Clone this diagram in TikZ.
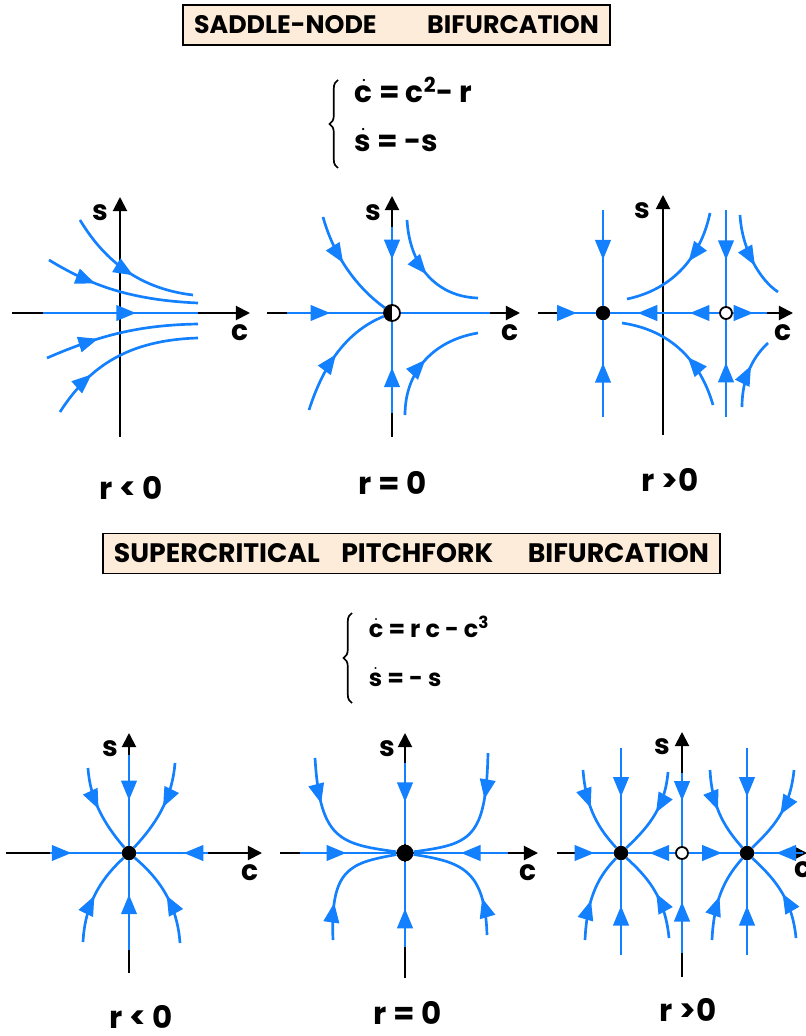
\documentclass[tikz,border=0pt]{standalone}
\usepackage{amsmath}
\usepackage{fontspec}
\setmainfont{Poppins}
\usepackage{tikz}
\usetikzlibrary{arrows.meta, decorations.pathreplacing, decorations.markings}
\usepackage{xcolor}
\definecolor{flowblue}{RGB}{18,128,255}
\definecolor{titlefill}{RGB}{253,236,217}

\tikzset{
  axis/.style={line width=1.4pt, -{Triangle[length=10pt,width=10pt]}},
  traj/.style={flowblue, line width=1.9pt},
  flow/.style={postaction={decorate, decoration={markings,
      mark=at position #1 with {\arrow{Triangle[length=14pt,width=11pt]}}}}},
  stable/.style={circle, fill=black, inner sep=0pt, minimum size=0.36cm},
  unstable/.style={circle, draw=black, fill=white, line width=1.3pt, inner sep=0pt, minimum size=0.3cm},
  titlebox/.style={draw=black, line width=1pt, fill=titlefill, minimum height=1cm,
      font=\fontsize{18}{20}\selectfont\bfseries},
  lbl/.style={font=\fontsize{20}{22}\selectfont\bfseries},
  rlbl/.style={font=\fontsize{22}{24}\selectfont\bfseries},
  eqn/.style={anchor=west, font=\fontsize{21}{24}\selectfont\bfseries},
}

\begin{document}
\begin{tikzpicture}[x=0.025cm, y=-0.025cm]
    \useasboundingbox (0,0) rectangle (806,1036);

    % Saddle-node: title and system
    \node[titlebox, minimum width=10.675cm] (title1) at (396.5,25) {SADDLE-NODE\hspace{2em}BIFURCATION};
    \draw[line width=1.2pt, decorate, decoration={brace, amplitude=6pt}] (338,168) -- (338,80);
    \node[eqn] (eqc1) at (350,90) {$\dot{\text{c}}$ = c\textsuperscript{2}- r};
    \node[eqn] (eqs1) at (350,140) {$\dot{\text{s}}$ = -s};

    % Saddle-node, r < 0
    \draw[axis] (12,313) -- (250,313);
    \draw[axis] (120,437) -- (120,197);
    \node[lbl] (sa1) at (100,213) {s};
    \node[lbl] (ca1) at (240,333) {c};
    \draw[traj, flow=0.55] (80,220) .. controls (110,270) and (150,290) .. (193,295);
    \draw[traj, flow=0.33] (49,260) .. controls (90,285) and (130,300) .. (198,303);
    \draw[traj, flow=0.6] (43,313) -- (198,313);
    \draw[traj, flow=0.35] (47,358) .. controls (100,335) and (140,325) .. (198,324);
    \draw[traj, flow=0.3] (60,412) .. controls (90,365) and (130,340) .. (198,338);
    \node[rlbl] (ra1) at (131,488) {r < 0};

    % Saddle-node, r = 0
    \draw[axis] (267,313) -- (520,313);
    \draw[axis] (392,437) -- (392,196);
    \node[lbl] (sa2) at (373,213) {s};
    \node[lbl] (ca2) at (510,333) {c};
    \node[unstable, minimum size=0.4cm, path picture={\fill[black] (path picture bounding box.north west)
        rectangle (path picture bounding box.south);}] (sn0) at (392,313) {};
    \draw[traj, flow=0.45] (287,313) -- (sn0);
    \draw[traj] (sn0) -- (490,313);
    \draw[traj, flow=0.42] (392,227) -- (sn0);
    \draw[traj, flow=0.5] (392,413) -- (sn0);
    \draw[traj, flow=0.45] (323,217) .. controls (335,260) and (360,290) .. (sn0);
    \draw[traj, flow=0.5] (309,410) .. controls (325,360) and (350,330) .. (sn0);
    \draw[traj, flow=0.5] (407,220) .. controls (410,270) and (440,297) .. (478,298);
    \draw[traj, flow=0.5] (405,415) .. controls (405,370) and (435,340) .. (478,333);
    \node[rlbl] (ra2) at (393,483) {r = 0};

    % Saddle-node, r > 0
    \draw[axis] (538,313) -- (793,313);
    \draw[axis] (663,435) -- (663,195);
    \node[lbl] (sa3) at (642,211) {s};
    \node[lbl] (ca3) at (783,333) {c};
    \node[stable] (sn1) at (603,313) {};
    \node[unstable] (sn2) at (726,313) {};
    \draw[traj, flow=0.5] (558,313) -- (sn1);
    \draw[traj, flow=0.27, flow=0.75] (sn2) -- (sn1);
    \draw[traj, flow=0.6] (sn2) -- (767,313);
    \foreach \n in {sn1,sn2} {
        \draw[traj, flow=0.52] (\n |- 0,210) -- (\n);
        \draw[traj, flow=0.56] (\n |- 0,417) -- (\n);
    }
    \draw[traj, flow=0.42] (710,213) .. controls (700,260) and (670,290) .. (627,299);
    \draw[traj, flow=0.6] (740,215) .. controls (742,250) and (760,280) .. (778,292);
    \draw[traj, flow=0.6] (742,407) .. controls (742,375) and (755,355) .. (768,343);
    \draw[traj, flow=0.42] (713,405) .. controls (700,360) and (670,330) .. (622,323);
    \node[rlbl] (ra3) at (670,480) {r >0};

    % Pitchfork: title and system
    \node[titlebox, minimum width=15.425cm, font=\fontsize{19}{21}\selectfont\bfseries] (title2) at (411.5,553.5)
        {SUPERCRITICAL\hspace{0.8em}PITCHFORK\hspace{1.3em}BIFURCATION};
    \draw[line width=1.2pt, decorate, decoration={brace, amplitude=6pt}] (352,703) -- (352,613);
    \node[eqn, font=\fontsize{17}{20}\selectfont\bfseries] (eqc2) at (364,627) {$\dot{\text{c}}$ = r c - c\textsuperscript{3}};
    \node[eqn, font=\fontsize{17}{20}\selectfont\bfseries] (eqs2) at (364,677) {$\dot{\text{s}}$ = - s};

    % Pitchfork, r < 0
    \draw[axis] (6,853) -- (262,853);
    \draw[axis] (129,973) -- (129,733);
    \node[lbl] (sb1) at (110,749) {s};
    \node[lbl] (cb1) at (250,873) {c};
    \node[stable] (pf1) at (129,853) {};
    \draw[traj, flow=0.3] (50,853) -- (pf1);
    \draw[traj, flow=0.34] (208,853) -- (pf1);
    \draw[traj, flow=0.5] (129,755) -- (pf1);
    \draw[traj, flow=0.62] (129,950) -- (pf1);
    \draw[traj, flow=0.48] (88,768) .. controls (90,800) and (105,825) .. (pf1);
    \draw[traj, flow=0.48] (175,763) .. controls (172,800) and (155,825) .. (pf1);
    \draw[traj, flow=0.5] (83,942) .. controls (85,900) and (105,875) .. (pf1);
    \draw[traj, flow=0.5] (180,943) .. controls (177,900) and (155,875) .. (pf1);
    \node[rlbl] (rb1) at (141,1017) {r < 0};

    % Pitchfork, r = 0
    \draw[axis] (280,853) -- (538,853);
    \draw[axis] (405,978) -- (405,733);
    \node[lbl] (sb2) at (387,749) {s};
    \node[lbl] (cb2) at (528,873) {c};
    \node[stable, minimum size=0.42cm] (pf2) at (405,853) {};
    \draw[traj, flow=0.48] (300,853) -- (pf2);
    \draw[traj, flow=0.5] (508,853) -- (pf2);
    \draw[traj, flow=0.48] (405,763) -- (pf2);
    \draw[traj, flow=0.45] (405,947) -- (pf2);
    \draw[traj, flow=0.32] (315,758) .. controls (320,840) and (340,844) .. (pf2);
    \draw[traj, flow=0.32] (488,753) .. controls (486,840) and (470,844) .. (pf2);
    \draw[traj, flow=0.3] (333,940) .. controls (330,868) and (350,863) .. (pf2);
    \draw[traj, flow=0.3] (487,935) .. controls (485,868) and (460,862) .. (pf2);
    \node[rlbl] (rb2) at (408,1013) {r = 0};

    % Pitchfork, r > 0
    \draw[axis] (557,853) -- (807,853);
    \draw[axis] (682,977) -- (682,732);
    \node[lbl] (sb3) at (662,747) {s};
    \node[lbl] (cb3) at (803,870) {c};
    \node[stable] (pf3) at (621,853) {};
    \node[unstable] (pf4) at (682,853) {};
    \node[stable] (pf5) at (747,853) {};
    \draw[traj, flow=0.5] (575,853) -- (pf3);
    \draw[traj, flow=0.55] (pf4) -- (pf3);
    \draw[traj, flow=0.65] (pf4) -- (pf5);
    \draw[traj, flow=0.55] (803,853) -- (pf5);
    \draw[traj, flow=0.38] (682,773) -- (pf4);
    \draw[traj, flow=0.55] (682,953) -- (pf4);
    \foreach \n in {pf3,pf5} {
        \draw[traj, flow=0.5] (\n |- 0,748) -- (\n);
        \draw[traj, flow=0.52] (\n |- 0,955) -- (\n);
    }
    \draw[traj, flow=0.45] (583,770) .. controls (586,810) and (600,830) .. (pf3);
    \draw[traj, flow=0.48] (668,772) .. controls (665,810) and (645,830) .. (pf3);
    \draw[traj, flow=0.45] (585,940) .. controls (587,895) and (600,875) .. (pf3);
    \draw[traj, flow=0.5] (669,938) .. controls (665,895) and (645,875) .. (pf3);
    \draw[traj, flow=0.48] (710,770) .. controls (712,810) and (727,830) .. (pf5);
    \draw[traj, flow=0.52] (794,770) .. controls (790,812) and (770,830) .. (pf5);
    \draw[traj, flow=0.5] (712,940) .. controls (714,895) and (728,875) .. (pf5);
    \draw[traj, flow=0.5] (796,938) .. controls (792,895) and (770,875) .. (pf5);
    \node[rlbl] (rb3) at (688,1010) {r >0};
\end{tikzpicture}
\end{document}
